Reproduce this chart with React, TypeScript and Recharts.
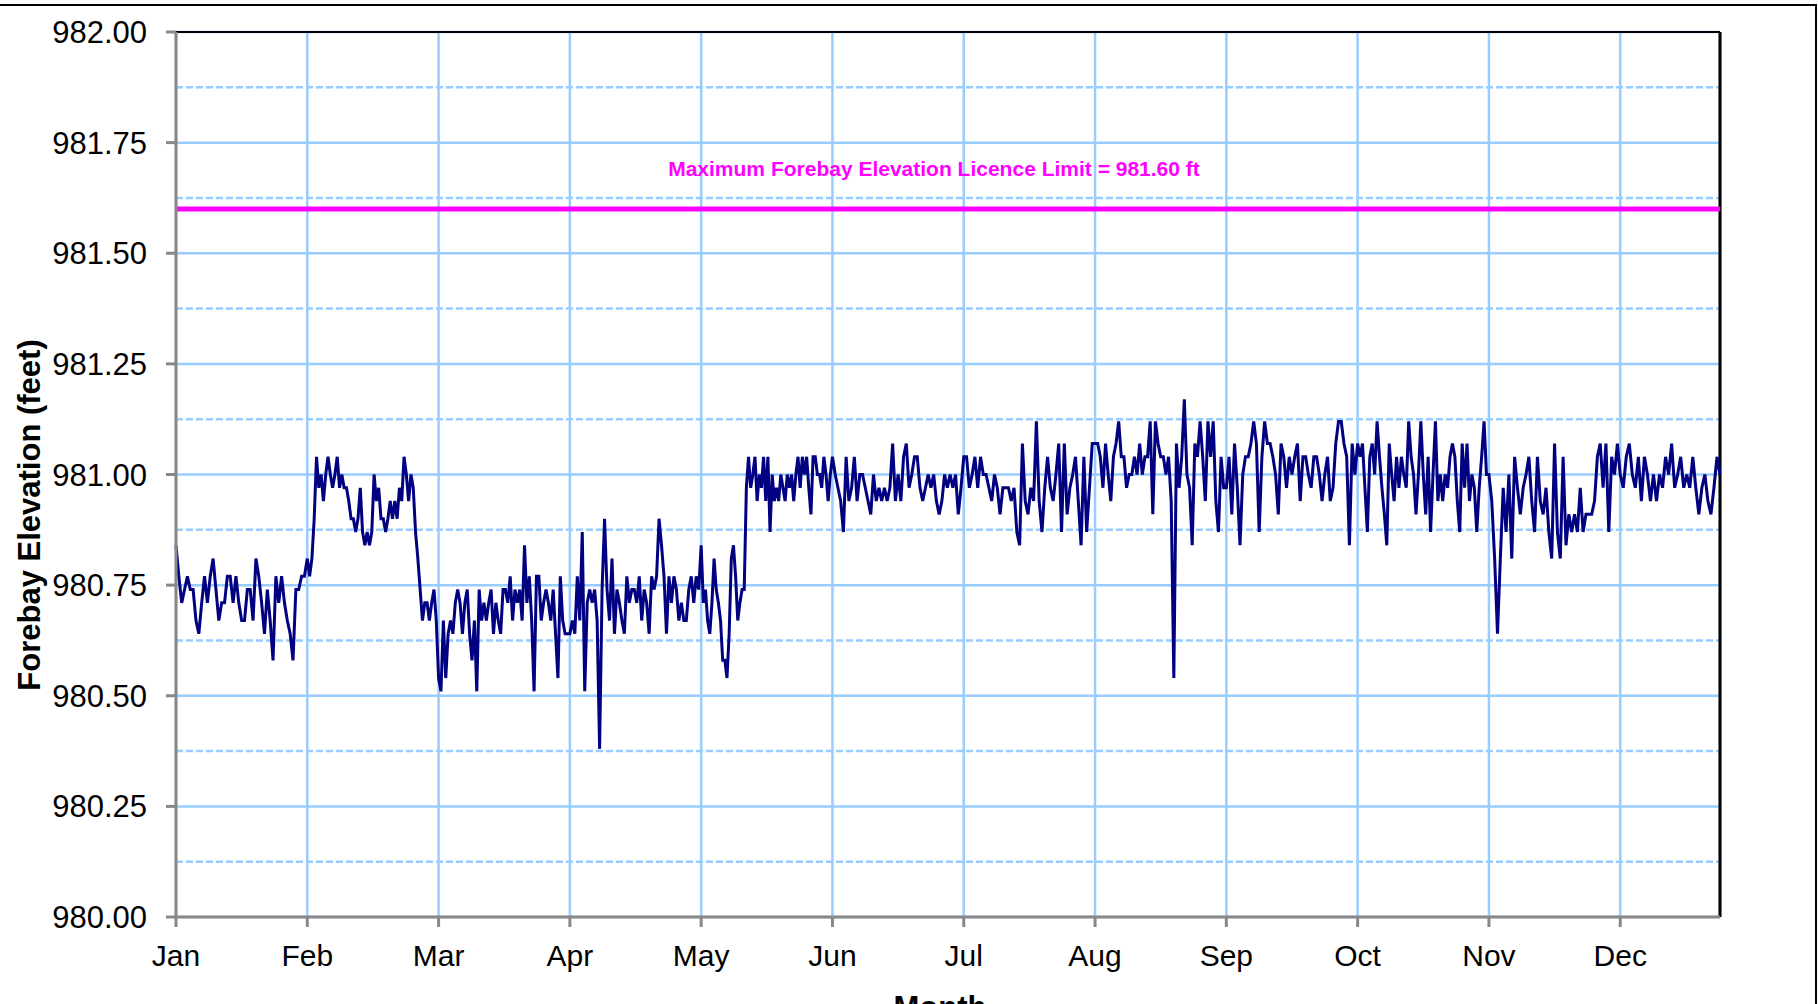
import { CartesianGrid, Label, Line, LineChart, ReferenceLine, XAxis, YAxis } from "recharts"

const MONTHS = ["Jan", "Feb", "Mar", "Apr", "May", "Jun", "Jul", "Aug", "Sep", "Oct", "Nov", "Dec"]
const MONTH_TICKS = [0, 1, 2, 3, 4, 5, 6, 7, 8, 9, 10, 11]
const Y_TICKS = [980, 980.25, 980.5, 980.75, 981, 981.25, 981.5, 981.75, 982]
const Y_MINOR = [980.125, 980.375, 980.625, 980.875, 981.125, 981.375, 981.625, 981.875]
const LICENCE_LIMIT = 981.6
// record stops part way through December
const DEC_COVERED = 0.76
const X_END = 11 + DEC_COVERED

// forebay elevation (ft)
const jan = [
  980.84, 980.77, 980.71, 980.74, 980.77, 980.74, 980.74, 980.67, 980.64, 980.71, 980.77, 980.71,
  980.77, 980.81, 980.74, 980.67, 980.71, 980.71, 980.77, 980.77, 980.71, 980.77, 980.71, 980.67,
  980.67, 980.74, 980.74, 980.67, 980.81, 980.77, 980.71, 980.64, 980.74, 980.67, 980.58, 980.77,
  980.71, 980.77, 980.71, 980.67, 980.64, 980.58, 980.74, 980.74, 980.77, 980.77,
]
const feb = [
  980.81, 980.77, 980.81, 980.9, 981.04, 980.97, 981.0, 980.94, 981.0, 981.04, 981.0, 980.97,
  981.0, 981.04, 980.97, 981.0, 980.97, 980.97, 980.94, 980.9, 980.9, 980.87, 980.9, 980.97,
  980.87, 980.84, 980.87, 980.84, 980.87, 981.0, 980.94, 980.97, 980.9, 980.9, 980.87, 980.9,
  980.94, 980.9, 980.94, 980.9, 980.97, 980.94, 981.04, 981.0, 980.94, 981.0, 980.97, 980.87,
  980.81, 980.74, 980.67, 980.71, 980.71, 980.67, 980.71, 980.74, 980.67,
]
const mar = [
  980.54, 980.51, 980.67, 980.54, 980.64, 980.67, 980.64, 980.71, 980.74, 980.71, 980.64, 980.71,
  980.74, 980.64, 980.58, 980.67, 980.51, 980.74, 980.67, 980.71, 980.67, 980.71, 980.74, 980.64,
  980.71, 980.67, 980.64, 980.74, 980.74, 980.71, 980.77, 980.67, 980.74, 980.71, 980.74, 980.67,
  980.84, 980.71, 980.77, 980.67, 980.51, 980.77, 980.77, 980.67, 980.71, 980.74, 980.71, 980.67,
  980.74, 980.64, 980.54, 980.77, 980.67, 980.64, 980.64,
]
const apr = [
  980.64, 980.67, 980.64, 980.77, 980.67, 980.87, 980.51, 980.71, 980.74, 980.71, 980.74, 980.67,
  980.38, 980.74, 980.9, 980.74, 980.67, 980.81, 980.64, 980.74, 980.71, 980.67, 980.64, 980.77,
  980.71, 980.74, 980.74, 980.71, 980.77, 980.67, 980.74, 980.71, 980.64, 980.77, 980.74, 980.77,
  980.9, 980.84, 980.77, 980.64, 980.77, 980.71, 980.77, 980.74, 980.67, 980.71, 980.67, 980.67,
  980.74, 980.77, 980.71, 980.77, 980.74,
]
const may = [
  980.84, 980.71, 980.74, 980.67, 980.64, 980.71, 980.81, 980.74, 980.71, 980.67, 980.58, 980.58,
  980.54, 980.64, 980.81, 980.84, 980.77, 980.67, 980.71, 980.74, 980.74, 980.97, 981.04, 980.97,
  981.0, 981.04, 980.94, 981.0, 980.97, 981.04, 980.94, 981.04, 980.87, 981.0, 980.94, 980.97,
  980.94, 981.0, 980.97, 980.94, 981.0, 980.97, 981.0, 980.94, 981.0, 981.04, 980.97, 981.04,
  981.0, 981.04, 980.97, 980.91, 981.04, 981.04, 981.0, 981.0, 980.97, 981.04, 981.0, 980.94,
  981.0,
]
const jun = [
  981.04, 981.0, 980.97, 980.94, 980.87, 981.04, 980.94, 980.97, 981.04, 980.94, 981.0, 981.0,
  980.97, 980.94, 980.91, 981.0, 980.94, 980.97, 980.94, 980.97, 980.94, 980.97, 981.07, 980.94,
  981.0, 980.94, 981.04, 981.07, 980.97, 981.0, 981.04, 981.04, 980.97, 980.94, 980.97, 981.0,
  980.97, 981.0, 980.94, 980.91, 980.94, 981.0, 980.97, 981.0, 980.97, 981.0, 980.91, 980.97,
]
const jul = [
  981.04, 981.04, 980.97, 981.0, 981.04, 980.97, 981.04, 981.0, 981.0, 980.97, 980.94, 981.0,
  980.97, 980.91, 980.97, 980.97, 980.97, 980.94, 980.97, 980.87, 980.84, 981.07, 980.94, 980.91,
  980.97, 980.94, 981.12, 980.94, 980.87, 980.97, 981.04, 980.97, 980.94, 981.0, 981.07, 980.87,
  981.07, 980.91, 980.97, 981.0, 981.04, 980.94, 980.84, 981.04, 980.87, 980.97, 981.07,
]
const aug = [
  981.07, 981.07, 981.04, 980.97, 981.07, 981.0, 980.94, 981.04, 981.07, 981.12, 981.04, 981.04,
  980.97, 981.0, 981.0, 981.04, 981.0, 981.07, 981.0, 981.04, 981.04, 981.12, 980.91, 981.12,
  981.07, 981.04, 981.04, 981.0, 981.04, 980.94, 980.54, 981.07, 980.97, 981.04, 981.17, 981.0,
  980.97, 980.84, 981.07, 981.04, 981.12, 981.04, 980.94, 981.12, 981.04, 981.12, 980.94, 980.87,
  981.04, 980.97,
]
const sep = [
  980.97, 981.04, 980.91, 981.07, 980.97, 980.84, 981.0, 981.04, 981.04, 981.07, 981.12, 981.07,
  980.87, 981.04, 981.12, 981.07, 981.07, 981.04, 981.0, 980.91, 981.07, 981.04, 980.97, 981.04,
  981.0, 981.04, 981.07, 980.94, 981.04, 981.04, 981.0, 980.97, 981.04, 981.04, 981.0, 980.94,
  981.0, 981.04, 980.94, 980.97, 981.07, 981.12, 981.12, 981.07, 981.04, 980.84, 981.07, 981.0,
]
const oct = [
  981.07, 981.04, 981.07, 980.97, 980.87, 981.04, 981.07, 981.0, 981.12, 981.04, 980.97, 980.91,
  980.84, 981.07, 981.0, 980.94, 981.04, 980.97, 981.04, 981.0, 980.97, 981.12, 981.04, 981.0,
  980.91, 981.0, 981.12, 981.0, 980.91, 981.04, 980.87, 981.0, 981.12, 980.94, 981.0, 980.94,
  981.0, 980.97, 981.04, 981.07, 981.04, 980.94, 980.87, 981.07, 980.97, 981.07, 980.94, 981.0,
  980.97, 980.87, 980.97, 981.04, 981.12, 981.0,
]
const nov = [
  981.0, 980.94, 980.81, 980.64, 980.81, 980.97, 980.87, 981.0, 980.81, 981.04, 980.97, 980.91,
  980.97, 981.0, 981.04, 980.94, 980.87, 981.04, 980.94, 980.91, 980.97, 980.87, 980.81, 981.07,
  980.87, 980.81, 981.04, 980.84, 980.91, 980.87, 980.91, 980.87, 980.97, 980.87, 980.91, 980.91,
  980.91, 980.94, 981.04, 981.07, 980.97, 981.07, 980.87, 981.04, 981.0, 981.07,
]
const dec = [
  981.0, 980.97, 981.04, 981.07, 981.0, 980.97, 981.04, 980.94, 981.04, 981.0, 980.94, 981.0,
  980.94, 981.0, 980.97, 981.04, 981.0, 981.07, 980.97, 981.0, 981.04, 980.97, 981.0, 980.97,
  981.04, 980.97, 980.91, 980.97, 981.0, 980.94, 980.91, 980.97, 981.04, 981.0,
]

const monthly = [jan, feb, mar, apr, may, jun, jul, aug, sep, oct, nov, dec]

const data = monthly.flatMap((vals, m) => {
  const step = m === 11 ? DEC_COVERED / (vals.length - 1) : 1 / vals.length
  return vals.map((v, i) => ({ x: m + i * step, elev: v }))
})

const FONT = "'Liberation Sans', Arial, sans-serif"
const GRID = "#99ccff"

export default function App() {
  return (
    <div
      style={{
        position: "absolute",
        left: 0,
        top: 0,
        width: 1818,
        height: 1004,
        overflow: "hidden",
        background: "#fff",
        fontFamily: FONT,
      }}
    >
      {/* outer frame, runs off the left and bottom edges */}
      <div
        style={{
          position: "absolute",
          left: -10,
          top: 4,
          width: 1827,
          height: 1200,
          border: "2px solid #000",
          boxSizing: "border-box",
        }}
      />
      <div style={{ position: "absolute", left: 0, top: 0 }}>
        <LineChart
          width={1818}
          height={1004}
          data={data}
          margin={{ top: 32, right: 98, bottom: 0, left: 0 }}
        >
          <CartesianGrid stroke={GRID} strokeWidth={2.5} />
          {Y_MINOR.map((v) => (
            <ReferenceLine
              key={v}
              y={v}
              stroke={GRID}
              strokeWidth={2.5}
              strokeDasharray="7 3"
            />
          ))}
          <XAxis
            type="number"
            dataKey="x"
            domain={[0, X_END]}
            ticks={MONTH_TICKS}
            tickFormatter={(v) => MONTHS[v]}
            height={87}
            stroke="#888"
            strokeWidth={3}
            tickSize={10}
            tickMargin={18}
            tick={{ fill: "#000", fontSize: 30, fontFamily: FONT }}
            interval={0}
          >
            <Label
              content={() => (
                <text
                  x={940}
                  y={1018}
                  textAnchor="middle"
                  fontSize={31}
                  fontWeight="bold"
                  fontFamily={FONT}
                  fill="#000"
                >
                  Month
                </text>
              )}
            />
          </XAxis>
          <YAxis
            domain={[980, 982]}
            ticks={Y_TICKS}
            tickFormatter={(v) => v.toFixed(2)}
            width={176}
            stroke="#888"
            strokeWidth={3}
            tickSize={10}
            tickMargin={19}
            tick={{ fill: "#000", fontSize: 31, fontFamily: FONT }}
            interval={0}
          >
            <Label
              content={() => (
                <text
                  x={29}
                  y={515}
                  transform="rotate(-90 29 515)"
                  textAnchor="middle"
                  dominantBaseline="central"
                  fontSize={31}
                  fontWeight="bold"
                  fontFamily={FONT}
                  fill="#000"
                >
                  Forebay Elevation (feet)
                </text>
              )}
            />
          </YAxis>
          <ReferenceLine y={982} stroke="#000" strokeWidth={2} />
          <ReferenceLine x={X_END} stroke="#000" strokeWidth={3} />
          <ReferenceLine
            y={LICENCE_LIMIT}
            stroke="#ff00ff"
            strokeWidth={5}
            label={{
              value: "Maximum Forebay Elevation Licence Limit = 981.60 ft",
              position: "top",
              offset: 33,
              fill: "#ff00ff",
              fontSize: 21,
              fontWeight: "bold",
              fontFamily: FONT,
              dx: -14,
            }}
          />
          <Line
            type="linear"
            dataKey="elev"
            stroke="#000080"
            strokeWidth={3}
            dot={false}
            isAnimationActive={false}
          />
        </LineChart>
      </div>
    </div>
  )
}
